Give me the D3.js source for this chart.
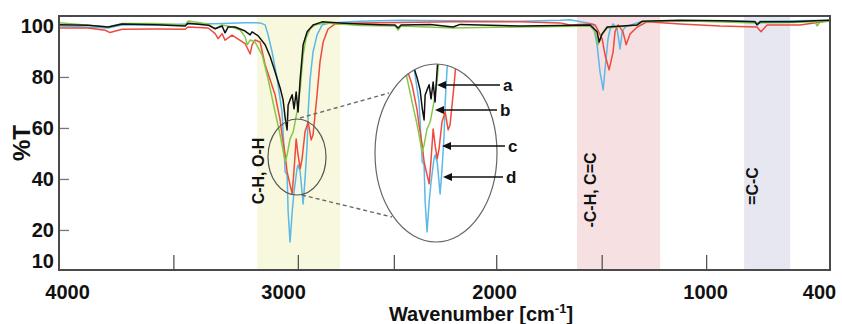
<!DOCTYPE html>
<html>
<head>
<meta charset="utf-8">
<script src="https://cdn.jsdelivr.net/npm/d3@7"></script>
<style>
  body { margin: 0; background: #fff; }
  svg text { font-family: "Liberation Sans", Arial, sans-serif; font-weight: bold; fill: #111; }
</style>
</head>
<body>
<svg id="chart" width="842" height="324"></svg>
<script>
// ------------------- Data -------------------
// [wavenumber cm-1, %T]
const spectrumA = [ // black
  [4061,100.5],[3924,100.3],[3829,99.6],[3763,100.8],[3606,100.5],[3464,100.0],[3450,101.1],
  [3355,100.3],[3322,98.9],[3289,100.0],[3275,97.3],[3260,99.6],[3227,99.6],[3180,98.0],
  [3156,96.5],[3147,97.7],[3118,96.1],[3085,92.6],[3061,87.9],[3038,82.0],[3014,75.7],
  [3000,71.0],[2990,63.9],[2981,59.2],[2976,69.0],[2967,71.0],[2957,73.0],[2948,67.5],
  [2938,74.1],[2929,66.3],[2919,79.2],[2905,92.6],[2886,97.7],[2858,100.4],[2815,101.6],
  [2730,101.2],[2635,100.8],[2540,100.5],[2469,100.4],[2455,99.2],[2441,100.4],[2303,100.6],
  [2194,99.6],[2161,100.6],[1877,100.0],[1687,100.2],[1545,100.4],[1512,97.7],[1502,93.7],
  [1488,96.9],[1464,99.6],[1322,100.4],[1299,101.8],[1118,102.2],[915,102.0],[763,101.6],
  [754,100.4],[739,101.6],[583,101.6],[479,102.0],[408,102.2]
];
const spectrumB = [ // green
  [4061,101.3],[3829,99.6],[3763,101.0],[3606,101.0],[3464,100.4],[3450,101.9],[3355,100.8],
  [3322,98.9],[3289,100.4],[3242,99.6],[3204,98.4],[3180,95.7],[3170,92.6],[3156,94.5],
  [3133,93.7],[3099,88.6],[3071,79.2],[3038,66.3],[3014,57.3],[3005,53.4],[2990,46.7],
  [2981,49.4],[2967,55.7],[2952,58.5],[2943,62.4],[2934,66.3],[2919,74.9],[2905,88.6],
  [2891,95.3],[2872,98.8],[2848,100.4],[2801,101.2],[2730,100.8],[2635,100.2],[2469,100.0],
  [2455,98.4],[2441,100.0],[2194,99.2],[1877,99.6],[1687,99.8],[1545,100.0],[1521,97.7],
  [1507,92.6],[1493,96.1],[1464,99.2],[1322,100.4],[1299,101.6],[1118,102.0],[754,101.2],
  [583,101.4],[479,101.6],[469,100.0],[455,101.6],[408,101.8]
];
const spectrumC = [ // red
  [4061,99.2],[3924,99.2],[3843,98.3],[3820,97.4],[3763,98.7],[3606,98.8],[3464,98.7],
  [3450,99.6],[3355,99.2],[3322,97.0],[3308,95.0],[3289,97.0],[3275,94.4],[3242,96.4],
  [3180,93.1],[3156,89.0],[3147,92.6],[3133,94.5],[3109,93.7],[3085,84.7],[3061,78.8],
  [3038,73.0],[3014,63.1],[3005,57.3],[2990,49.4],[2981,42.8],[2967,37.7],[2957,34.2],
  [2948,43.6],[2938,55.7],[2929,49.4],[2919,44.0],[2910,47.9],[2896,58.5],[2881,62.4],
  [2867,55.3],[2858,57.3],[2839,73.0],[2825,85.9],[2810,93.7],[2787,98.8],[2753,100.8],
  [2635,101.2],[2445,101.4],[2208,101.6],[1877,101.6],[1687,101.2],[1640,100.4],[1545,100.8],
  [1521,100.4],[1488,94.9],[1474,88.6],[1455,82.8],[1436,89.8],[1427,97.7],[1412,100.4],
  [1389,97.7],[1374,92.6],[1355,96.9],[1322,99.6],[1275,101.6],[1118,100.8],[929,100.0],
  [754,99.6],[735,97.7],[706,100.4],[550,100.4],[408,102.0]
];
const spectrumD = [ // blue
  [4061,100.0],[3829,99.2],[3763,100.4],[3630,100.4],[3393,100.9],[3322,100.9],[3180,101.3],
  [3109,101.2],[3085,100.4],[3071,96.5],[3052,89.8],[3028,79.2],[3005,66.3],[2995,50.6],
  [2990,42.8],[2981,41.6],[2976,27.1],[2967,15.3],[2957,27.1],[2948,34.9],[2934,44.0],
  [2929,45.5],[2919,42.8],[2905,30.2],[2896,40.0],[2886,53.4],[2881,66.3],[2872,79.2],
  [2858,89.8],[2839,96.5],[2815,100.4],[2777,101.2],[2635,101.8],[2445,102.2],[2208,102.0],
  [1877,101.8],[1687,102.2],[1640,102.4],[1531,100.8],[1512,92.6],[1498,82.0],[1483,74.9],
  [1474,83.2],[1460,94.9],[1450,98.8],[1436,100.8],[1417,98.8],[1403,91.0],[1393,97.7],
  [1379,99.6],[1308,101.6],[1118,102.0],[763,101.8],[754,100.8],[739,101.8],[408,102.2]
];

const seriesNames = ["a", "b", "c", "d"];
const seriesColors = ["#111111", "#86c74a", "#ef4a3d", "#5ab9e6"];

const bandRanges = [[3123, 2730], [1607, 1213], [815, 597]];
const bandLabels = ["C-H, O-H", "-C-H, C=C", "=C-C"];
const bandColors = ["#f8f8de", "#f7e0e1", "#e6e7f1"];

const xTickValues = [3520, 2930, 2475, 1990, 1490, 995];
const xTickLabels = [4000, 3000, 2000, 1000, 400];
const yTickValues = [80, 60, 40, 20];
const yTickLabels = [100, 80, 60, 40, 20, 10];

// ------------------- Setup -------------------
const svg = d3.select("#chart");
const plotL = 59, plotR = 830, plotT = 16, plotB = 270;

const x = d3.scaleLinear().domain([4062, 408]).range([plotL, plotR]);
const y = d3.scaleLinear().domain([4.3, 103.9]).range([plotB, plotT]);

const line = d3.line().x(d => x(d[0])).y(d => y(d[1]));
const series = [spectrumD, spectrumC, spectrumB, spectrumA];
const seriesOrder = [3, 2, 1, 0];

const defs = svg.append("defs");
defs.append("clipPath").attr("id", "plotClip")
  .append("rect").attr("x", plotL).attr("y", plotT)
  .attr("width", plotR - plotL).attr("height", plotB - plotT);

// inset layout
const inset = { cx: 436, cy: 153, rx: 61, ry: 89, dx: 137, dy: -10 };
const loupe = { cx: 297, cy: 157, rx: 29, ry: 38 };

defs.append("clipPath").attr("id", "insetClip")
  .append("ellipse").attr("cx", inset.cx).attr("cy", inset.cy)
  .attr("rx", inset.rx).attr("ry", inset.ry);

// ------------------- Bands -------------------
svg.append("g").selectAll("rect")
  .data(bandRanges)
  .join("rect")
    .attr("x", d => x(d[0]))
    .attr("y", plotT)
    .attr("width", d => x(d[1]) - x(d[0]))
    .attr("height", plotB - plotT)
    .attr("fill", (d, i) => bandColors[i]);

// ------------------- Spectra -------------------
svg.append("g").attr("clip-path", "url(#plotClip)")
  .selectAll("path")
  .data(series)
  .join("path")
    .attr("d", line)
    .attr("fill", "none")
    .attr("stroke", (d, i) => seriesColors[seriesOrder[i]])
    .attr("stroke-width", 1.5)
    .attr("stroke-linejoin", "round");

// ------------------- Axes -------------------
const xTicks = svg.append("g").attr("transform", `translate(0,${plotB})`)
  .call(d3.axisBottom(x).tickValues(xTickValues).tickSize(-15).tickFormat(""));
xTicks.select(".domain").remove();
xTicks.selectAll("line").attr("stroke", "#555").attr("stroke-width", 1.3);

const xLab = svg.append("g").attr("transform", `translate(0,${plotB})`)
  .call(d3.axisBottom(x).tickValues(xTickLabels).tickSize(0).tickPadding(15).tickFormat(d3.format("d")));
xLab.select(".domain").remove();
xLab.selectAll("text").attr("font-size", 20).attr("fill", "#111");
xLab.selectAll("text").filter(d => d === 400).attr("text-anchor", "end").attr("x", 4);
xLab.selectAll("text").filter(d => d === 4000).attr("x", -5);

const yTicks = svg.append("g").attr("transform", `translate(${plotL},0)`)
  .call(d3.axisLeft(y).tickValues(yTickValues).tickSize(-10).tickFormat(""));
yTicks.select(".domain").remove();
yTicks.selectAll("line").attr("stroke", "#777").attr("stroke-width", 1.3);

const yLab = svg.append("g").attr("transform", `translate(${plotL},0)`)
  .call(d3.axisLeft(y).tickValues(yTickLabels).tickSize(0).tickPadding(5));
yLab.select(".domain").remove();
yLab.selectAll("text").attr("font-size", 20).attr("fill", "#111");
yLab.selectAll("text").filter(d => d === 10).attr("dy", "0.62em");

// frame
svg.append("rect")
  .attr("x", plotL).attr("y", plotT)
  .attr("width", plotR - plotL).attr("height", plotB - plotT)
  .attr("fill", "none").attr("stroke", "#4a4a4a").attr("stroke-width", 2);

// axis titles
const xt = svg.append("text")
  .attr("x", 481).attr("y", 321)
  .attr("text-anchor", "middle").attr("font-size", 20);
xt.append("tspan").text("Wavenumber [cm");
xt.append("tspan").attr("font-size", 13).attr("dy", -8).text("-1");
xt.append("tspan").attr("dy", 8).text("]");

svg.append("text")
  .attr("transform", "translate(21,143) rotate(-90)")
  .attr("text-anchor", "middle").attr("dominant-baseline", "central")
  .attr("font-size", 24).text("%T");

// band labels
const bandLabelPos = [[1, 171], [13, 190], [8, 186]];
svg.append("g").selectAll("text")
  .data(bandRanges)
  .join("text")
    .attr("transform", (d, i) => `translate(${x(d[0]) + bandLabelPos[i][0]},${bandLabelPos[i][1]}) rotate(-90)`)
    .attr("text-anchor", "middle")
    .attr("dominant-baseline", "central")
    .attr("font-size", 16)
    .text((d, i) => bandLabels[i]);

// ------------------- Zoom inset -------------------
const dashed = [
  [[300, 118], [389, 93]],
  [[302, 195], [392, 217]]
];
svg.append("g").selectAll("line")
  .data(dashed)
  .join("line")
    .attr("x1", d => d[0][0]).attr("y1", d => d[0][1])
    .attr("x2", d => d[1][0]).attr("y2", d => d[1][1])
    .attr("stroke", "#6a6a6a").attr("stroke-width", 1.4)
    .attr("stroke-dasharray", "4,3");

svg.append("ellipse")
  .attr("cx", loupe.cx).attr("cy", loupe.cy).attr("rx", loupe.rx).attr("ry", loupe.ry)
  .attr("fill", "none").attr("stroke", "#555").attr("stroke-width", 1.2);

svg.append("ellipse")
  .attr("cx", inset.cx).attr("cy", inset.cy).attr("rx", inset.rx).attr("ry", inset.ry)
  .attr("fill", "#fff");

svg.append("g").attr("clip-path", "url(#insetClip)")
  .append("g").attr("transform", `translate(${inset.dx},${inset.dy})`)
  .selectAll("path")
  .data(series)
  .join("path")
    .attr("d", line)
    .attr("fill", "none")
    .attr("stroke", (d, i) => seriesColors[seriesOrder[i]])
    .attr("stroke-width", 1.5)
    .attr("stroke-linejoin", "round");

svg.append("ellipse")
  .attr("cx", inset.cx).attr("cy", inset.cy).attr("rx", inset.rx).attr("ry", inset.ry)
  .attr("fill", "none").attr("stroke", "#666").attr("stroke-width", 1.2);

// arrows pointing at each spectrum
const arrowPos = [[437, 500, 85], [435, 497, 110], [442, 505, 146], [443, 503, 177]];
const arrows = svg.append("g").selectAll("g")
  .data(seriesNames)
  .join("g");
arrows.append("line")
  .attr("x1", (d, i) => arrowPos[i][0] + 6).attr("x2", (d, i) => arrowPos[i][1])
  .attr("y1", (d, i) => arrowPos[i][2]).attr("y2", (d, i) => arrowPos[i][2])
  .attr("stroke", "#111").attr("stroke-width", 1.6);
arrows.append("path")
  .attr("d", (d, i) => {
    const [tx, , ty] = arrowPos[i];
    return `M${tx},${ty}L${tx + 9},${ty - 4}L${tx + 9},${ty + 4}Z`;
  })
  .attr("fill", "#111");
arrows.append("text")
  .attr("x", (d, i) => arrowPos[i][1] + 3)
  .attr("y", (d, i) => arrowPos[i][2])
  .attr("dominant-baseline", "central")
  .attr("font-size", 17)
  .text(d => d);
</script>
</body>
</html>
